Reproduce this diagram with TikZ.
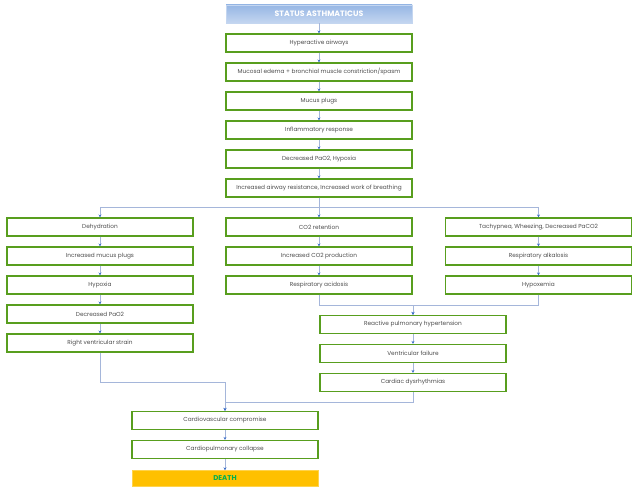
\documentclass[tikz,border=0pt]{standalone}
\usepackage{fontspec}
\setmainfont{Poppins}
\usepackage{tikz}
\usetikzlibrary{arrows.meta}
\definecolor{boxgreen}{RGB}{88,158,30}
\definecolor{linkblue}{RGB}{165,182,218}
\definecolor{tipblue}{RGB}{60,110,200}
\definecolor{headtop}{RGB}{150,182,228}
\definecolor{headbottom}{RGB}{196,214,240}
\definecolor{deathorange}{RGB}{255,192,0}
\definecolor{deathgreen}{RGB}{0,176,80}
\tikzstyle{process} = [rectangle, minimum width=186pt, minimum height=18pt, text centered, draw=boxgreen, line width=1.1pt, text=black!70, font=\fontsize{5.8}{6.5}\selectfont]
\tikzstyle{heading} = [rectangle, minimum width=186pt, minimum height=18pt, text centered, draw=headbottom, top color=headtop, bottom color=headbottom, text=white, font=\fontsize{7.8}{8}\selectfont\bfseries]
\tikzstyle{final} = [rectangle, minimum width=186pt, minimum height=16pt, text centered, draw=deathorange!70, fill=deathorange, text=deathgreen, font=\fontsize{7}{7.5}\selectfont\bfseries]
\tikzstyle{arrow} = [draw=linkblue, line width=0.7pt, -{Stealth[length=3pt,width=3pt,color=tipblue]}]

\begin{document}
\begin{tikzpicture}[x=1pt, y=1pt, node distance=29pt]
\useasboundingbox (0,0) rectangle (640,-500);
\node (status) [heading] at (319,-14) {STATUS ASTHMATICUS};
\node (hyper) [process, below of = status] {Hyperactive airways};
\node (edema) [process, below of = hyper] {Mucosal edema + bronchial muscle constriction/spasm};
\node (plugs) [process, below of = edema] {Mucus plugs};
\node (inflam) [process, below of = plugs] {Inflammatory response};
\node (pao) [process, below of = inflam] {Decreased PaO2, Hypoxia};
\node (resist) [process, below of = pao] {Increased airway resistance, Increased work of breathing};
% three branches
\node (co2ret) [process, below of = resist, yshift = -10pt] {CO2 retention};
\node (co2prod) [process, below of = co2ret] {Increased CO2 production};
\node (acid) [process, below of = co2prod] {Respiratory acidosis};
\node (dehyd) [process, left of = co2ret, xshift = -190pt] {Dehydration};
\node (moreplugs) [process, below of = dehyd] {Increased mucus plugs};
\node (hypoxia) [process, below of = moreplugs] {Hypoxia};
\node (lowpao) [process, below of = hypoxia] {Decreased PaO2};
\node (strain) [process, below of = lowpao] {Right ventricular strain};
\node (tachy) [process, right of = co2ret, xshift = 190.5pt] {Tachypnea, Wheezing, Decreased PaCO2};
\node (alkal) [process, below of = tachy] {Respiratory alkalosis};
\node (hypox) [process, below of = alkal] {Hypoxemia};
\node (pulm) [process, below of = acid, xshift = 94pt, yshift = -10.5pt] {Reactive pulmonary hypertension};
\node (vfail) [process, below of = pulm] {Ventricular failure};
\node (dysr) [process, below of = vfail] {Cardiac dysrhythmias};
\node (cvc) [process, below of = dysr, xshift = -188pt, yshift = -9pt] {Cardiovascular compromise};
\node (collapse) [process, below of = cvc] {Cardiopulmonary collapse};
\node (death) [final, below of = collapse] {DEATH};

\draw [arrow] (status) -- (hyper);
\draw [arrow] (hyper) -- (edema);
\draw [arrow] (edema) -- (plugs);
\draw [arrow] (plugs) -- (inflam);
\draw [arrow] (inflam) -- (pao);
\draw [arrow] (pao) -- (resist);
\draw [arrow] (resist) -- (co2ret);
\draw [arrow] (resist.south) -- ++(0,-10) -| (dehyd);
\draw [arrow] (resist.south) -- ++(0,-10) -| (tachy);
\draw [arrow] (dehyd) -- (moreplugs);
\draw [arrow] (moreplugs) -- (hypoxia);
\draw [arrow] (hypoxia) -- (lowpao);
\draw [arrow] (lowpao) -- (strain);
\draw [arrow] (co2ret) -- (co2prod);
\draw [arrow] (co2prod) -- (acid);
\draw [arrow] (tachy) -- (alkal);
\draw [arrow] (alkal) -- (hypox);
\draw [arrow] (acid.south) -- ++(0,-11) -| (pulm);
\draw [arrow] (hypox.south) -- ++(0,-11) -| (pulm);
\draw [arrow] (pulm) -- (vfail);
\draw [arrow] (vfail) -- (dysr);
\draw [arrow] (strain.south) -- ++(0,-29.5) -| (cvc);
\draw [arrow] (dysr.south) -- ++(0,-10) -| (cvc);
\draw [arrow] (cvc) -- (collapse);
\draw [arrow] (collapse) -- (death);
\end{tikzpicture}
\end{document}
